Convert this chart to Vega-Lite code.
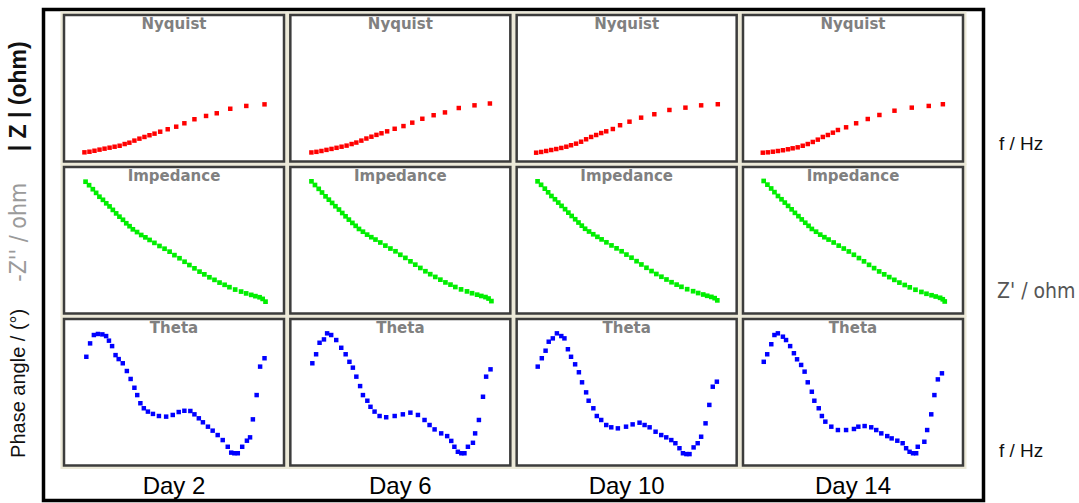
{
  "$schema": "https://vega.github.io/schema/vega-lite/v6.json",
  "width": 940,
  "height": 491,
  "autosize": {"type": "none"},
  "padding": {"left": 43.5, "top": 9.5, "right": 95.5, "bottom": 2.5},
  "background": "white",
  "config": {"view": {"stroke": "black", "strokeWidth": 3.5, "fill": "white"}},
  "datasets": {
    "panels": [
      {"day": "Day 2", "plot": "Nyquist"}, {"day": "Day 6", "plot": "Nyquist"}, {"day": "Day 10", "plot": "Nyquist"}, {"day": "Day 14", "plot": "Nyquist"},
      {"day": "Day 2", "plot": "Impedance"}, {"day": "Day 6", "plot": "Impedance"}, {"day": "Day 10", "plot": "Impedance"}, {"day": "Day 14", "plot": "Impedance"},
      {"day": "Day 2", "plot": "Theta"}, {"day": "Day 6", "plot": "Theta"}, {"day": "Day 10", "plot": "Theta"}, {"day": "Day 14", "plot": "Theta"}
    ],
    "points": [
      {"day":"Day 2","plot":"Nyquist","x":-0.35,"y":0.75},{"day":"Day 2","plot":"Nyquist","x":-0.19,"y":0.80},{"day":"Day 2","plot":"Nyquist","x":-0.03,"y":0.88},{"day":"Day 2","plot":"Nyquist","x":0.13,"y":0.97},{"day":"Day 2","plot":"Nyquist","x":0.29,"y":1.05},{"day":"Day 2","plot":"Nyquist","x":0.45,"y":1.13},{"day":"Day 2","plot":"Nyquist","x":0.61,"y":1.21},{"day":"Day 2","plot":"Nyquist","x":0.77,"y":1.29},{"day":"Day 2","plot":"Nyquist","x":0.93,"y":1.43},{"day":"Day 2","plot":"Nyquist","x":1.08,"y":1.54},{"day":"Day 2","plot":"Nyquist","x":1.24,"y":1.71},{"day":"Day 2","plot":"Nyquist","x":1.40,"y":1.87},{"day":"Day 2","plot":"Nyquist","x":1.56,"y":2.01},{"day":"Day 2","plot":"Nyquist","x":1.72,"y":2.15},{"day":"Day 2","plot":"Nyquist","x":1.88,"y":2.28},{"day":"Day 2","plot":"Nyquist","x":2.06,"y":2.44},{"day":"Day 2","plot":"Nyquist","x":2.30,"y":2.64},{"day":"Day 2","plot":"Nyquist","x":2.57,"y":2.85},{"day":"Day 2","plot":"Nyquist","x":2.83,"y":3.13},{"day":"Day 2","plot":"Nyquist","x":3.15,"y":3.46},{"day":"Day 2","plot":"Nyquist","x":3.52,"y":3.73},{"day":"Day 2","plot":"Nyquist","x":3.86,"y":3.95},{"day":"Day 2","plot":"Nyquist","x":4.29,"y":4.32},{"day":"Day 2","plot":"Nyquist","x":4.80,"y":4.55},{"day":"Day 2","plot":"Nyquist","x":5.38,"y":4.68},
      {"day":"Day 6","plot":"Nyquist","x":-0.33,"y":0.74},{"day":"Day 6","plot":"Nyquist","x":-0.17,"y":0.79},{"day":"Day 6","plot":"Nyquist","x":-0.01,"y":0.86},{"day":"Day 6","plot":"Nyquist","x":0.15,"y":0.95},{"day":"Day 6","plot":"Nyquist","x":0.31,"y":1.03},{"day":"Day 6","plot":"Nyquist","x":0.47,"y":1.12},{"day":"Day 6","plot":"Nyquist","x":0.63,"y":1.21},{"day":"Day 6","plot":"Nyquist","x":0.79,"y":1.30},{"day":"Day 6","plot":"Nyquist","x":0.95,"y":1.43},{"day":"Day 6","plot":"Nyquist","x":1.10,"y":1.55},{"day":"Day 6","plot":"Nyquist","x":1.26,"y":1.71},{"day":"Day 6","plot":"Nyquist","x":1.42,"y":1.88},{"day":"Day 6","plot":"Nyquist","x":1.58,"y":2.03},{"day":"Day 6","plot":"Nyquist","x":1.74,"y":2.18},{"day":"Day 6","plot":"Nyquist","x":1.90,"y":2.31},{"day":"Day 6","plot":"Nyquist","x":2.08,"y":2.47},{"day":"Day 6","plot":"Nyquist","x":2.32,"y":2.68},{"day":"Day 6","plot":"Nyquist","x":2.60,"y":2.90},{"day":"Day 6","plot":"Nyquist","x":2.88,"y":3.18},{"day":"Day 6","plot":"Nyquist","x":3.20,"y":3.50},{"day":"Day 6","plot":"Nyquist","x":3.56,"y":3.79},{"day":"Day 6","plot":"Nyquist","x":3.92,"y":4.02},{"day":"Day 6","plot":"Nyquist","x":4.36,"y":4.38},{"day":"Day 6","plot":"Nyquist","x":4.86,"y":4.60},{"day":"Day 6","plot":"Nyquist","x":5.35,"y":4.75},
      {"day":"Day 10","plot":"Nyquist","x":-0.38,"y":0.72},{"day":"Day 10","plot":"Nyquist","x":-0.22,"y":0.78},{"day":"Day 10","plot":"Nyquist","x":-0.06,"y":0.86},{"day":"Day 10","plot":"Nyquist","x":0.10,"y":0.94},{"day":"Day 10","plot":"Nyquist","x":0.26,"y":1.02},{"day":"Day 10","plot":"Nyquist","x":0.42,"y":1.11},{"day":"Day 10","plot":"Nyquist","x":0.58,"y":1.21},{"day":"Day 10","plot":"Nyquist","x":0.73,"y":1.33},{"day":"Day 10","plot":"Nyquist","x":0.89,"y":1.46},{"day":"Day 10","plot":"Nyquist","x":1.05,"y":1.62},{"day":"Day 10","plot":"Nyquist","x":1.21,"y":1.82},{"day":"Day 10","plot":"Nyquist","x":1.37,"y":2.01},{"day":"Day 10","plot":"Nyquist","x":1.53,"y":2.17},{"day":"Day 10","plot":"Nyquist","x":1.69,"y":2.33},{"day":"Day 10","plot":"Nyquist","x":1.85,"y":2.47},{"day":"Day 10","plot":"Nyquist","x":2.06,"y":2.66},{"day":"Day 10","plot":"Nyquist","x":2.29,"y":2.97},{"day":"Day 10","plot":"Nyquist","x":2.59,"y":3.26},{"day":"Day 10","plot":"Nyquist","x":2.96,"y":3.59},{"day":"Day 10","plot":"Nyquist","x":3.38,"y":3.87},{"day":"Day 10","plot":"Nyquist","x":3.86,"y":4.22},{"day":"Day 10","plot":"Nyquist","x":4.37,"y":4.41},{"day":"Day 10","plot":"Nyquist","x":4.87,"y":4.60},{"day":"Day 10","plot":"Nyquist","x":5.40,"y":4.69},
      {"day":"Day 14","plot":"Nyquist","x":-0.37,"y":0.72},{"day":"Day 14","plot":"Nyquist","x":-0.21,"y":0.75},{"day":"Day 14","plot":"Nyquist","x":-0.05,"y":0.80},{"day":"Day 14","plot":"Nyquist","x":0.11,"y":0.86},{"day":"Day 14","plot":"Nyquist","x":0.27,"y":0.92},{"day":"Day 14","plot":"Nyquist","x":0.43,"y":1.00},{"day":"Day 14","plot":"Nyquist","x":0.58,"y":1.08},{"day":"Day 14","plot":"Nyquist","x":0.74,"y":1.16},{"day":"Day 14","plot":"Nyquist","x":0.90,"y":1.29},{"day":"Day 14","plot":"Nyquist","x":1.06,"y":1.43},{"day":"Day 14","plot":"Nyquist","x":1.22,"y":1.60},{"day":"Day 14","plot":"Nyquist","x":1.38,"y":1.79},{"day":"Day 14","plot":"Nyquist","x":1.54,"y":2.01},{"day":"Day 14","plot":"Nyquist","x":1.70,"y":2.17},{"day":"Day 14","plot":"Nyquist","x":1.86,"y":2.36},{"day":"Day 14","plot":"Nyquist","x":2.02,"y":2.58},{"day":"Day 14","plot":"Nyquist","x":2.28,"y":2.80},{"day":"Day 14","plot":"Nyquist","x":2.60,"y":3.13},{"day":"Day 14","plot":"Nyquist","x":2.97,"y":3.48},{"day":"Day 14","plot":"Nyquist","x":3.34,"y":3.81},{"day":"Day 14","plot":"Nyquist","x":3.82,"y":4.16},{"day":"Day 14","plot":"Nyquist","x":4.37,"y":4.41},{"day":"Day 14","plot":"Nyquist","x":4.91,"y":4.55},{"day":"Day 14","plot":"Nyquist","x":5.36,"y":4.69},
      {"day":"Day 2","plot":"Impedance","x":0.98,"y":7.20},{"day":"Day 2","plot":"Impedance","x":1.14,"y":7.01},{"day":"Day 2","plot":"Impedance","x":1.31,"y":6.79},{"day":"Day 2","plot":"Impedance","x":1.46,"y":6.59},{"day":"Day 2","plot":"Impedance","x":1.61,"y":6.38},{"day":"Day 2","plot":"Impedance","x":1.77,"y":6.21},{"day":"Day 2","plot":"Impedance","x":1.92,"y":6.02},{"day":"Day 2","plot":"Impedance","x":2.07,"y":5.85},{"day":"Day 2","plot":"Impedance","x":2.22,"y":5.66},{"day":"Day 2","plot":"Impedance","x":2.37,"y":5.47},{"day":"Day 2","plot":"Impedance","x":2.52,"y":5.29},{"day":"Day 2","plot":"Impedance","x":2.68,"y":5.12},{"day":"Day 2","plot":"Impedance","x":2.83,"y":4.93},{"day":"Day 2","plot":"Impedance","x":2.98,"y":4.77},{"day":"Day 2","plot":"Impedance","x":3.13,"y":4.60},{"day":"Day 2","plot":"Impedance","x":3.32,"y":4.45},{"day":"Day 2","plot":"Impedance","x":3.51,"y":4.29},{"day":"Day 2","plot":"Impedance","x":3.70,"y":4.16},{"day":"Day 2","plot":"Impedance","x":3.89,"y":4.02},{"day":"Day 2","plot":"Impedance","x":4.11,"y":3.86},{"day":"Day 2","plot":"Impedance","x":4.34,"y":3.69},{"day":"Day 2","plot":"Impedance","x":4.57,"y":3.54},{"day":"Day 2","plot":"Impedance","x":4.80,"y":3.38},{"day":"Day 2","plot":"Impedance","x":5.02,"y":3.19},{"day":"Day 2","plot":"Impedance","x":5.25,"y":3.02},{"day":"Day 2","plot":"Impedance","x":5.48,"y":2.83},{"day":"Day 2","plot":"Impedance","x":5.70,"y":2.65},{"day":"Day 2","plot":"Impedance","x":5.93,"y":2.47},{"day":"Day 2","plot":"Impedance","x":6.16,"y":2.29},{"day":"Day 2","plot":"Impedance","x":6.38,"y":2.14},{"day":"Day 2","plot":"Impedance","x":6.61,"y":1.98},{"day":"Day 2","plot":"Impedance","x":6.84,"y":1.84},{"day":"Day 2","plot":"Impedance","x":7.07,"y":1.69},{"day":"Day 2","plot":"Impedance","x":7.30,"y":1.57},{"day":"Day 2","plot":"Impedance","x":7.52,"y":1.44},{"day":"Day 2","plot":"Impedance","x":7.78,"y":1.31},{"day":"Day 2","plot":"Impedance","x":8.05,"y":1.20},{"day":"Day 2","plot":"Impedance","x":8.28,"y":1.10},{"day":"Day 2","plot":"Impedance","x":8.51,"y":1.02},{"day":"Day 2","plot":"Impedance","x":8.70,"y":0.95},{"day":"Day 2","plot":"Impedance","x":8.89,"y":0.89},{"day":"Day 2","plot":"Impedance","x":9.03,"y":0.80},{"day":"Day 2","plot":"Impedance","x":9.16,"y":0.65},
      {"day":"Day 6","plot":"Impedance","x":0.96,"y":7.22},{"day":"Day 6","plot":"Impedance","x":1.12,"y":7.02},{"day":"Day 6","plot":"Impedance","x":1.29,"y":6.81},{"day":"Day 6","plot":"Impedance","x":1.44,"y":6.61},{"day":"Day 6","plot":"Impedance","x":1.60,"y":6.40},{"day":"Day 6","plot":"Impedance","x":1.75,"y":6.22},{"day":"Day 6","plot":"Impedance","x":1.90,"y":6.04},{"day":"Day 6","plot":"Impedance","x":2.05,"y":5.86},{"day":"Day 6","plot":"Impedance","x":2.21,"y":5.68},{"day":"Day 6","plot":"Impedance","x":2.36,"y":5.49},{"day":"Day 6","plot":"Impedance","x":2.51,"y":5.31},{"day":"Day 6","plot":"Impedance","x":2.66,"y":5.13},{"day":"Day 6","plot":"Impedance","x":2.82,"y":4.95},{"day":"Day 6","plot":"Impedance","x":2.97,"y":4.79},{"day":"Day 6","plot":"Impedance","x":3.12,"y":4.62},{"day":"Day 6","plot":"Impedance","x":3.30,"y":4.47},{"day":"Day 6","plot":"Impedance","x":3.49,"y":4.31},{"day":"Day 6","plot":"Impedance","x":3.68,"y":4.17},{"day":"Day 6","plot":"Impedance","x":3.87,"y":4.04},{"day":"Day 6","plot":"Impedance","x":4.09,"y":3.88},{"day":"Day 6","plot":"Impedance","x":4.32,"y":3.71},{"day":"Day 6","plot":"Impedance","x":4.55,"y":3.55},{"day":"Day 6","plot":"Impedance","x":4.78,"y":3.40},{"day":"Day 6","plot":"Impedance","x":5.00,"y":3.21},{"day":"Day 6","plot":"Impedance","x":5.23,"y":3.04},{"day":"Day 6","plot":"Impedance","x":5.46,"y":2.85},{"day":"Day 6","plot":"Impedance","x":5.68,"y":2.67},{"day":"Day 6","plot":"Impedance","x":5.91,"y":2.49},{"day":"Day 6","plot":"Impedance","x":6.14,"y":2.31},{"day":"Day 6","plot":"Impedance","x":6.36,"y":2.15},{"day":"Day 6","plot":"Impedance","x":6.59,"y":2.00},{"day":"Day 6","plot":"Impedance","x":6.82,"y":1.85},{"day":"Day 6","plot":"Impedance","x":7.05,"y":1.70},{"day":"Day 6","plot":"Impedance","x":7.28,"y":1.58},{"day":"Day 6","plot":"Impedance","x":7.50,"y":1.45},{"day":"Day 6","plot":"Impedance","x":7.76,"y":1.32},{"day":"Day 6","plot":"Impedance","x":8.03,"y":1.21},{"day":"Day 6","plot":"Impedance","x":8.26,"y":1.11},{"day":"Day 6","plot":"Impedance","x":8.49,"y":1.03},{"day":"Day 6","plot":"Impedance","x":8.68,"y":0.96},{"day":"Day 6","plot":"Impedance","x":8.87,"y":0.90},{"day":"Day 6","plot":"Impedance","x":9.01,"y":0.82},{"day":"Day 6","plot":"Impedance","x":9.14,"y":0.68},
      {"day":"Day 10","plot":"Impedance","x":0.95,"y":7.22},{"day":"Day 10","plot":"Impedance","x":1.11,"y":7.03},{"day":"Day 10","plot":"Impedance","x":1.28,"y":6.82},{"day":"Day 10","plot":"Impedance","x":1.43,"y":6.62},{"day":"Day 10","plot":"Impedance","x":1.58,"y":6.42},{"day":"Day 10","plot":"Impedance","x":1.74,"y":6.24},{"day":"Day 10","plot":"Impedance","x":1.89,"y":6.06},{"day":"Day 10","plot":"Impedance","x":2.04,"y":5.88},{"day":"Day 10","plot":"Impedance","x":2.20,"y":5.70},{"day":"Day 10","plot":"Impedance","x":2.35,"y":5.51},{"day":"Day 10","plot":"Impedance","x":2.50,"y":5.33},{"day":"Day 10","plot":"Impedance","x":2.66,"y":5.15},{"day":"Day 10","plot":"Impedance","x":2.81,"y":4.97},{"day":"Day 10","plot":"Impedance","x":2.96,"y":4.80},{"day":"Day 10","plot":"Impedance","x":3.11,"y":4.63},{"day":"Day 10","plot":"Impedance","x":3.29,"y":4.48},{"day":"Day 10","plot":"Impedance","x":3.48,"y":4.33},{"day":"Day 10","plot":"Impedance","x":3.67,"y":4.19},{"day":"Day 10","plot":"Impedance","x":3.86,"y":4.05},{"day":"Day 10","plot":"Impedance","x":4.08,"y":3.89},{"day":"Day 10","plot":"Impedance","x":4.31,"y":3.72},{"day":"Day 10","plot":"Impedance","x":4.54,"y":3.56},{"day":"Day 10","plot":"Impedance","x":4.77,"y":3.40},{"day":"Day 10","plot":"Impedance","x":4.99,"y":3.22},{"day":"Day 10","plot":"Impedance","x":5.22,"y":3.05},{"day":"Day 10","plot":"Impedance","x":5.45,"y":2.86},{"day":"Day 10","plot":"Impedance","x":5.67,"y":2.68},{"day":"Day 10","plot":"Impedance","x":5.90,"y":2.50},{"day":"Day 10","plot":"Impedance","x":6.13,"y":2.32},{"day":"Day 10","plot":"Impedance","x":6.35,"y":2.16},{"day":"Day 10","plot":"Impedance","x":6.58,"y":2.01},{"day":"Day 10","plot":"Impedance","x":6.81,"y":1.86},{"day":"Day 10","plot":"Impedance","x":7.04,"y":1.71},{"day":"Day 10","plot":"Impedance","x":7.27,"y":1.58},{"day":"Day 10","plot":"Impedance","x":7.49,"y":1.46},{"day":"Day 10","plot":"Impedance","x":7.75,"y":1.33},{"day":"Day 10","plot":"Impedance","x":8.02,"y":1.22},{"day":"Day 10","plot":"Impedance","x":8.25,"y":1.12},{"day":"Day 10","plot":"Impedance","x":8.48,"y":1.04},{"day":"Day 10","plot":"Impedance","x":8.66,"y":0.97},{"day":"Day 10","plot":"Impedance","x":8.85,"y":0.91},{"day":"Day 10","plot":"Impedance","x":9.00,"y":0.84},{"day":"Day 10","plot":"Impedance","x":9.12,"y":0.72},
      {"day":"Day 14","plot":"Impedance","x":0.94,"y":7.24},{"day":"Day 14","plot":"Impedance","x":1.11,"y":7.04},{"day":"Day 14","plot":"Impedance","x":1.28,"y":6.83},{"day":"Day 14","plot":"Impedance","x":1.43,"y":6.63},{"day":"Day 14","plot":"Impedance","x":1.59,"y":6.42},{"day":"Day 14","plot":"Impedance","x":1.75,"y":6.24},{"day":"Day 14","plot":"Impedance","x":1.90,"y":6.06},{"day":"Day 14","plot":"Impedance","x":2.05,"y":5.88},{"day":"Day 14","plot":"Impedance","x":2.21,"y":5.69},{"day":"Day 14","plot":"Impedance","x":2.36,"y":5.50},{"day":"Day 14","plot":"Impedance","x":2.52,"y":5.32},{"day":"Day 14","plot":"Impedance","x":2.67,"y":5.14},{"day":"Day 14","plot":"Impedance","x":2.83,"y":4.96},{"day":"Day 14","plot":"Impedance","x":2.98,"y":4.79},{"day":"Day 14","plot":"Impedance","x":3.13,"y":4.62},{"day":"Day 14","plot":"Impedance","x":3.32,"y":4.47},{"day":"Day 14","plot":"Impedance","x":3.51,"y":4.31},{"day":"Day 14","plot":"Impedance","x":3.70,"y":4.17},{"day":"Day 14","plot":"Impedance","x":3.89,"y":4.04},{"day":"Day 14","plot":"Impedance","x":4.12,"y":3.88},{"day":"Day 14","plot":"Impedance","x":4.35,"y":3.71},{"day":"Day 14","plot":"Impedance","x":4.58,"y":3.55},{"day":"Day 14","plot":"Impedance","x":4.81,"y":3.39},{"day":"Day 14","plot":"Impedance","x":5.04,"y":3.21},{"day":"Day 14","plot":"Impedance","x":5.27,"y":3.03},{"day":"Day 14","plot":"Impedance","x":5.50,"y":2.85},{"day":"Day 14","plot":"Impedance","x":5.73,"y":2.66},{"day":"Day 14","plot":"Impedance","x":5.96,"y":2.48},{"day":"Day 14","plot":"Impedance","x":6.19,"y":2.30},{"day":"Day 14","plot":"Impedance","x":6.42,"y":2.14},{"day":"Day 14","plot":"Impedance","x":6.65,"y":1.99},{"day":"Day 14","plot":"Impedance","x":6.88,"y":1.84},{"day":"Day 14","plot":"Impedance","x":7.11,"y":1.69},{"day":"Day 14","plot":"Impedance","x":7.35,"y":1.56},{"day":"Day 14","plot":"Impedance","x":7.58,"y":1.43},{"day":"Day 14","plot":"Impedance","x":7.84,"y":1.30},{"day":"Day 14","plot":"Impedance","x":8.11,"y":1.18},{"day":"Day 14","plot":"Impedance","x":8.34,"y":1.08},{"day":"Day 14","plot":"Impedance","x":8.57,"y":1.00},{"day":"Day 14","plot":"Impedance","x":8.76,"y":0.93},{"day":"Day 14","plot":"Impedance","x":8.96,"y":0.86},{"day":"Day 14","plot":"Impedance","x":9.08,"y":0.78},{"day":"Day 14","plot":"Impedance","x":9.17,"y":0.66},
      {"day":"Day 2","plot":"Theta","x":-0.29,"y":52.0},{"day":"Day 2","plot":"Theta","x":-0.17,"y":58.4},{"day":"Day 2","plot":"Theta","x":-0.05,"y":62.4},{"day":"Day 2","plot":"Theta","x":0.08,"y":62.9},{"day":"Day 2","plot":"Theta","x":0.22,"y":62.7},{"day":"Day 2","plot":"Theta","x":0.34,"y":61.9},{"day":"Day 2","plot":"Theta","x":0.43,"y":59.7},{"day":"Day 2","plot":"Theta","x":0.53,"y":57.1},{"day":"Day 2","plot":"Theta","x":0.64,"y":52.8},{"day":"Day 2","plot":"Theta","x":0.74,"y":50.9},{"day":"Day 2","plot":"Theta","x":0.87,"y":48.9},{"day":"Day 2","plot":"Theta","x":1.00,"y":45.2},{"day":"Day 2","plot":"Theta","x":1.12,"y":41.4},{"day":"Day 2","plot":"Theta","x":1.24,"y":37.2},{"day":"Day 2","plot":"Theta","x":1.33,"y":33.7},{"day":"Day 2","plot":"Theta","x":1.43,"y":29.8},{"day":"Day 2","plot":"Theta","x":1.54,"y":27.4},{"day":"Day 2","plot":"Theta","x":1.67,"y":25.8},{"day":"Day 2","plot":"Theta","x":1.83,"y":24.7},{"day":"Day 2","plot":"Theta","x":2.02,"y":23.7},{"day":"Day 2","plot":"Theta","x":2.25,"y":23.4},{"day":"Day 2","plot":"Theta","x":2.46,"y":24.2},{"day":"Day 2","plot":"Theta","x":2.65,"y":25.6},{"day":"Day 2","plot":"Theta","x":2.83,"y":26.2},{"day":"Day 2","plot":"Theta","x":3.02,"y":26.1},{"day":"Day 2","plot":"Theta","x":3.15,"y":24.5},{"day":"Day 2","plot":"Theta","x":3.29,"y":22.6},{"day":"Day 2","plot":"Theta","x":3.42,"y":20.7},{"day":"Day 2","plot":"Theta","x":3.58,"y":18.6},{"day":"Day 2","plot":"Theta","x":3.73,"y":16.7},{"day":"Day 2","plot":"Theta","x":3.89,"y":14.6},{"day":"Day 2","plot":"Theta","x":4.05,"y":12.2},{"day":"Day 2","plot":"Theta","x":4.21,"y":9.0},{"day":"Day 2","plot":"Theta","x":4.32,"y":6.2},{"day":"Day 2","plot":"Theta","x":4.42,"y":5.9},{"day":"Day 2","plot":"Theta","x":4.53,"y":5.9},{"day":"Day 2","plot":"Theta","x":4.67,"y":9.0},{"day":"Day 2","plot":"Theta","x":4.82,"y":11.9},{"day":"Day 2","plot":"Theta","x":4.92,"y":13.5},{"day":"Day 2","plot":"Theta","x":5.01,"y":22.1},{"day":"Day 2","plot":"Theta","x":5.13,"y":33.7},{"day":"Day 2","plot":"Theta","x":5.24,"y":47.3},{"day":"Day 2","plot":"Theta","x":5.38,"y":51.3},
      {"day":"Day 6","plot":"Theta","x":-0.30,"y":48.9},{"day":"Day 6","plot":"Theta","x":-0.18,"y":53.2},{"day":"Day 6","plot":"Theta","x":-0.07,"y":58.7},{"day":"Day 6","plot":"Theta","x":0.07,"y":60.3},{"day":"Day 6","plot":"Theta","x":0.17,"y":63.2},{"day":"Day 6","plot":"Theta","x":0.30,"y":62.4},{"day":"Day 6","plot":"Theta","x":0.46,"y":60.0},{"day":"Day 6","plot":"Theta","x":0.62,"y":56.3},{"day":"Day 6","plot":"Theta","x":0.76,"y":53.2},{"day":"Day 6","plot":"Theta","x":0.88,"y":49.6},{"day":"Day 6","plot":"Theta","x":0.99,"y":46.8},{"day":"Day 6","plot":"Theta","x":1.10,"y":42.5},{"day":"Day 6","plot":"Theta","x":1.22,"y":38.0},{"day":"Day 6","plot":"Theta","x":1.31,"y":33.7},{"day":"Day 6","plot":"Theta","x":1.45,"y":31.0},{"day":"Day 6","plot":"Theta","x":1.55,"y":28.1},{"day":"Day 6","plot":"Theta","x":1.68,"y":25.8},{"day":"Day 6","plot":"Theta","x":1.84,"y":23.7},{"day":"Day 6","plot":"Theta","x":2.05,"y":23.1},{"day":"Day 6","plot":"Theta","x":2.32,"y":23.7},{"day":"Day 6","plot":"Theta","x":2.58,"y":24.5},{"day":"Day 6","plot":"Theta","x":2.82,"y":25.3},{"day":"Day 6","plot":"Theta","x":3.06,"y":24.2},{"day":"Day 6","plot":"Theta","x":3.27,"y":21.8},{"day":"Day 6","plot":"Theta","x":3.43,"y":19.4},{"day":"Day 6","plot":"Theta","x":3.59,"y":17.3},{"day":"Day 6","plot":"Theta","x":3.80,"y":15.4},{"day":"Day 6","plot":"Theta","x":3.99,"y":14.1},{"day":"Day 6","plot":"Theta","x":4.12,"y":11.8},{"day":"Day 6","plot":"Theta","x":4.22,"y":9.0},{"day":"Day 6","plot":"Theta","x":4.33,"y":6.6},{"day":"Day 6","plot":"Theta","x":4.44,"y":5.9},{"day":"Day 6","plot":"Theta","x":4.54,"y":5.9},{"day":"Day 6","plot":"Theta","x":4.65,"y":9.0},{"day":"Day 6","plot":"Theta","x":4.81,"y":10.9},{"day":"Day 6","plot":"Theta","x":4.88,"y":15.4},{"day":"Day 6","plot":"Theta","x":5.00,"y":21.8},{"day":"Day 6","plot":"Theta","x":5.13,"y":32.9},{"day":"Day 6","plot":"Theta","x":5.23,"y":42.5},{"day":"Day 6","plot":"Theta","x":5.37,"y":46.0},
      {"day":"Day 10","plot":"Theta","x":-0.33,"y":47.3},{"day":"Day 10","plot":"Theta","x":-0.20,"y":51.3},{"day":"Day 10","plot":"Theta","x":-0.08,"y":54.9},{"day":"Day 10","plot":"Theta","x":0.02,"y":59.2},{"day":"Day 10","plot":"Theta","x":0.15,"y":60.8},{"day":"Day 10","plot":"Theta","x":0.28,"y":63.2},{"day":"Day 10","plot":"Theta","x":0.42,"y":61.9},{"day":"Day 10","plot":"Theta","x":0.52,"y":60.8},{"day":"Day 10","plot":"Theta","x":0.63,"y":55.6},{"day":"Day 10","plot":"Theta","x":0.73,"y":52.0},{"day":"Day 10","plot":"Theta","x":0.86,"y":48.4},{"day":"Day 10","plot":"Theta","x":0.98,"y":44.6},{"day":"Day 10","plot":"Theta","x":1.08,"y":39.8},{"day":"Day 10","plot":"Theta","x":1.21,"y":35.0},{"day":"Day 10","plot":"Theta","x":1.29,"y":31.0},{"day":"Day 10","plot":"Theta","x":1.44,"y":27.4},{"day":"Day 10","plot":"Theta","x":1.55,"y":23.7},{"day":"Day 10","plot":"Theta","x":1.69,"y":21.8},{"day":"Day 10","plot":"Theta","x":1.85,"y":19.4},{"day":"Day 10","plot":"Theta","x":2.01,"y":18.3},{"day":"Day 10","plot":"Theta","x":2.22,"y":17.8},{"day":"Day 10","plot":"Theta","x":2.48,"y":18.6},{"day":"Day 10","plot":"Theta","x":2.69,"y":19.7},{"day":"Day 10","plot":"Theta","x":2.91,"y":20.5},{"day":"Day 10","plot":"Theta","x":3.07,"y":19.4},{"day":"Day 10","plot":"Theta","x":3.23,"y":18.3},{"day":"Day 10","plot":"Theta","x":3.42,"y":16.2},{"day":"Day 10","plot":"Theta","x":3.60,"y":14.6},{"day":"Day 10","plot":"Theta","x":3.76,"y":13.5},{"day":"Day 10","plot":"Theta","x":3.92,"y":12.2},{"day":"Day 10","plot":"Theta","x":4.05,"y":10.7},{"day":"Day 10","plot":"Theta","x":4.18,"y":8.3},{"day":"Day 10","plot":"Theta","x":4.29,"y":5.9},{"day":"Day 10","plot":"Theta","x":4.40,"y":5.5},{"day":"Day 10","plot":"Theta","x":4.50,"y":5.5},{"day":"Day 10","plot":"Theta","x":4.63,"y":8.7},{"day":"Day 10","plot":"Theta","x":4.76,"y":10.7},{"day":"Day 10","plot":"Theta","x":4.87,"y":13.8},{"day":"Day 10","plot":"Theta","x":5.01,"y":20.2},{"day":"Day 10","plot":"Theta","x":5.13,"y":29.0},{"day":"Day 10","plot":"Theta","x":5.24,"y":37.7},{"day":"Day 10","plot":"Theta","x":5.37,"y":40.1},
      {"day":"Day 14","plot":"Theta","x":-0.34,"y":49.6},{"day":"Day 14","plot":"Theta","x":-0.23,"y":53.2},{"day":"Day 14","plot":"Theta","x":-0.10,"y":58.0},{"day":"Day 14","plot":"Theta","x":0.00,"y":62.4},{"day":"Day 14","plot":"Theta","x":0.11,"y":63.2},{"day":"Day 14","plot":"Theta","x":0.27,"y":61.6},{"day":"Day 14","plot":"Theta","x":0.37,"y":60.0},{"day":"Day 14","plot":"Theta","x":0.50,"y":57.1},{"day":"Day 14","plot":"Theta","x":0.62,"y":53.7},{"day":"Day 14","plot":"Theta","x":0.72,"y":50.8},{"day":"Day 14","plot":"Theta","x":0.85,"y":48.1},{"day":"Day 14","plot":"Theta","x":0.96,"y":44.9},{"day":"Day 14","plot":"Theta","x":1.06,"y":39.8},{"day":"Day 14","plot":"Theta","x":1.19,"y":35.3},{"day":"Day 14","plot":"Theta","x":1.27,"y":31.0},{"day":"Day 14","plot":"Theta","x":1.41,"y":27.4},{"day":"Day 14","plot":"Theta","x":1.51,"y":23.7},{"day":"Day 14","plot":"Theta","x":1.62,"y":21.0},{"day":"Day 14","plot":"Theta","x":1.81,"y":18.6},{"day":"Day 14","plot":"Theta","x":2.02,"y":17.0},{"day":"Day 14","plot":"Theta","x":2.28,"y":17.0},{"day":"Day 14","plot":"Theta","x":2.53,"y":17.5},{"day":"Day 14","plot":"Theta","x":2.67,"y":18.6},{"day":"Day 14","plot":"Theta","x":2.87,"y":18.9},{"day":"Day 14","plot":"Theta","x":3.08,"y":18.3},{"day":"Day 14","plot":"Theta","x":3.24,"y":17.0},{"day":"Day 14","plot":"Theta","x":3.40,"y":15.4},{"day":"Day 14","plot":"Theta","x":3.59,"y":14.1},{"day":"Day 14","plot":"Theta","x":3.73,"y":13.0},{"day":"Day 14","plot":"Theta","x":3.91,"y":11.9},{"day":"Day 14","plot":"Theta","x":4.08,"y":10.7},{"day":"Day 14","plot":"Theta","x":4.19,"y":8.3},{"day":"Day 14","plot":"Theta","x":4.30,"y":6.6},{"day":"Day 14","plot":"Theta","x":4.41,"y":5.9},{"day":"Day 14","plot":"Theta","x":4.51,"y":5.9},{"day":"Day 14","plot":"Theta","x":4.56,"y":9.0},{"day":"Day 14","plot":"Theta","x":4.77,"y":11.4},{"day":"Day 14","plot":"Theta","x":4.86,"y":17.0},{"day":"Day 14","plot":"Theta","x":4.99,"y":24.5},{"day":"Day 14","plot":"Theta","x":5.09,"y":33.7},{"day":"Day 14","plot":"Theta","x":5.20,"y":41.2},{"day":"Day 14","plot":"Theta","x":5.33,"y":44.1}
    ]
  },
  "resolve": {
    "scale": {"xOffset": "independent", "yOffset": "independent"},
    "axis": {"x": "independent", "y": "independent"}
  },
  "layer": [
    {
      "data": {"name": "panels"},
      "mark": {"type": "rect", "fill": "#ece9d8", "stroke": "#ece9d8", "strokeWidth": 7},
      "encoding": {
        "x": {"field": "day", "type": "nominal", "axis": null,
              "scale": {"domain": ["Day 2", "Day 6", "Day 10", "Day 14"], "paddingInner": 0.028, "paddingOuter": 0.0906, "align": 0.5}},
        "y": {"field": "plot", "type": "nominal",
              "scale": {"domain": ["Nyquist", "Impedance", "Theta"], "paddingInner": 0.0366, "paddingOuter": 0.1328, "align": 0.136},
              "axis": {
                "orient": "left", "title": null, "domain": false, "ticks": false, "tickSize": 0, "grid": false,
                "labelAngle": 270, "labelAlign": "center", "labelBaseline": "middle", "labelPadding": 25.5,
                "labelLimit": 0, "labelOverlap": false,
                "labelExpr": "datum.value === 'Nyquist' ? '| Z | (ohm)' : datum.value === 'Impedance' ? \"-Z'' / ohm\" : 'Phase angle / (°)'",
                "labelFont": {"condition": {"test": "datum.value === 'Impedance'", "value": "Liberation Sans Narrow, DejaVu Sans Condensed, sans-serif"}, "value": "Liberation Sans, Arial, sans-serif"},
                "labelFontWeight": {"condition": {"test": "datum.value === 'Nyquist'", "value": "bold"}, "value": "normal"},
                "labelColor": {"condition": {"test": "datum.value === 'Impedance'", "value": "#9a9a9a"}, "value": "#111111"},
                "labelFontSize": {"condition": [{"test": "datum.value === 'Nyquist'", "value": 23}, {"test": "datum.value === 'Impedance'", "value": 23}], "value": 20},
                "labelOffset": {"condition": [{"test": "datum.value === 'Nyquist'", "value": 8}, {"test": "datum.value === 'Impedance'", "value": -8}], "value": -9}
              }}
      }
    },
    {
      "data": {"name": "panels"},
      "mark": {"type": "rect", "fill": "white", "stroke": "#3c3c3c", "strokeWidth": 2.5},
      "encoding": {
        "x": {"field": "day", "type": "nominal", "axis": null,
              "scale": {"domain": ["Day 2", "Day 6", "Day 10", "Day 14"], "paddingInner": 0.028, "paddingOuter": 0.0906, "align": 0.5}},
        "y": {"field": "plot", "type": "nominal",
              "scale": {"domain": ["Nyquist", "Impedance", "Theta"], "paddingInner": 0.0366, "paddingOuter": 0.1328, "align": 0.136},
              "axis": {
                "orient": "right", "title": null, "domain": false, "ticks": false, "tickSize": 0, "grid": false,
                "labelAngle": 0, "labelAlign": "left", "labelBaseline": "middle", "labelPadding": 15,
                "labelLimit": 0, "labelOverlap": false,
                "labelExpr": "datum.value === 'Impedance' ? \"Z' / ohm\" : 'f / Hz'",
                "labelFont": {"condition": {"test": "datum.value === 'Impedance'", "value": "Liberation Sans Narrow, DejaVu Sans Condensed, sans-serif"}, "value": "Liberation Sans, Arial, sans-serif"},
                "labelColor": {"condition": {"test": "datum.value === 'Impedance'", "value": "#555555"}, "value": "#111111"},
                "labelFontSize": {"condition": {"test": "datum.value === 'Impedance'", "value": 21}, "value": 19},
                "labelPadding": {"condition": {"test": "datum.value === 'Impedance'", "value": 13}, "value": 15},
                "labelOffset": {"condition": [{"test": "datum.value === 'Nyquist'", "value": 56}, {"test": "datum.value === 'Impedance'", "value": 52}], "value": 59}
              }}
      }
    },
    {
      "data": {"name": "panels"},
      "mark": {"type": "text", "baseline": "top", "align": "center", "dy": 2, "font": "DejaVu Sans", "fontWeight": "bold", "fontSize": 15, "color": "#808080"},
      "encoding": {
        "x": {"field": "day", "type": "nominal", "axis": null, "bandPosition": 0.5,
              "scale": {"domain": ["Day 2", "Day 6", "Day 10", "Day 14"], "paddingInner": 0.028, "paddingOuter": 0.0906, "align": 0.5}},
        "y": {"field": "plot", "type": "nominal", "axis": null, "bandPosition": 0,
              "scale": {"domain": ["Nyquist", "Impedance", "Theta"], "paddingInner": 0.0366, "paddingOuter": 0.1328, "align": 0.136}},
        "text": {"field": "plot"}
      }
    },
    {
      "data": {"name": "points"},
      "transform": [{"filter": "datum.plot === 'Nyquist'"}],
      "mark": {"type": "point", "shape": "square", "filled": true, "size": 20, "opacity": 1, "color": "#ff0000"},
      "encoding": {
        "x": {"field": "day", "type": "nominal", "axis": null,
              "scale": {"domain": ["Day 2", "Day 6", "Day 10", "Day 14"], "paddingInner": 0.028, "paddingOuter": 0.0906, "align": 0.5}},
        "y": {"field": "plot", "type": "nominal", "axis": null,
              "scale": {"domain": ["Nyquist", "Impedance", "Theta"], "paddingInner": 0.0366, "paddingOuter": 0.1328, "align": 0.136}},
        "xOffset": {"field": "x", "type": "quantitative", "title": "log10 f / Hz", "scale": {"domain": [-1, 6], "nice": false, "zero": false}},
        "yOffset": {"field": "y", "type": "quantitative", "title": "|Z| / kohm", "scale": {"domain": [0, 12], "nice": false, "zero": false, "reverse": true}}
      }
    },
    {
      "data": {"name": "points"},
      "transform": [{"filter": "datum.plot === 'Impedance'"}],
      "mark": {"type": "point", "shape": "square", "filled": true, "size": 22, "opacity": 1, "color": "#00ee00"},
      "encoding": {
        "x": {"field": "day", "type": "nominal", "axis": null,
              "scale": {"domain": ["Day 2", "Day 6", "Day 10", "Day 14"], "paddingInner": 0.028, "paddingOuter": 0.0906, "align": 0.5}},
        "y": {"field": "plot", "type": "nominal", "axis": null,
              "scale": {"domain": ["Nyquist", "Impedance", "Theta"], "paddingInner": 0.0366, "paddingOuter": 0.1328, "align": 0.136}},
        "xOffset": {"field": "x", "type": "quantitative", "title": "Z' / kohm", "scale": {"domain": [0, 10], "nice": false, "zero": false}},
        "yOffset": {"field": "y", "type": "quantitative", "title": "-Z'' / kohm", "scale": {"domain": [0, 8], "nice": false, "zero": false, "reverse": true}}
      }
    },
    {
      "data": {"name": "points"},
      "transform": [{"filter": "datum.plot === 'Theta'"}],
      "mark": {"type": "point", "shape": "square", "filled": true, "size": 20, "opacity": 1, "color": "#0000ff"},
      "encoding": {
        "x": {"field": "day", "type": "nominal", "axis": null,
              "scale": {"domain": ["Day 2", "Day 6", "Day 10", "Day 14"], "paddingInner": 0.028, "paddingOuter": 0.0906, "align": 0.5}},
        "y": {"field": "plot", "type": "nominal", "axis": null,
              "scale": {"domain": ["Nyquist", "Impedance", "Theta"], "paddingInner": 0.0366, "paddingOuter": 0.1328, "align": 0.136}},
        "xOffset": {"field": "x", "type": "quantitative", "title": "log10 f / Hz", "scale": {"domain": [-1, 6], "nice": false, "zero": false}},
        "yOffset": {"field": "y", "type": "quantitative", "title": "phase angle / deg", "scale": {"domain": [0, 70], "nice": false, "zero": false, "reverse": true}}
      }
    },
    {
      "data": {"name": "panels"},
      "transform": [{"filter": "datum.plot === 'Theta'"}],
      "mark": {"type": "text", "baseline": "alphabetic", "align": "center", "dy": 28, "font": "Liberation Sans, Arial, sans-serif", "fontSize": 24, "color": "#000000"},
      "encoding": {
        "x": {"field": "day", "type": "nominal", "axis": null, "bandPosition": 0.5,
              "scale": {"domain": ["Day 2", "Day 6", "Day 10", "Day 14"], "paddingInner": 0.028, "paddingOuter": 0.0906, "align": 0.5}},
        "y": {"field": "plot", "type": "nominal", "axis": null, "bandPosition": 1,
              "scale": {"domain": ["Nyquist", "Impedance", "Theta"], "paddingInner": 0.0366, "paddingOuter": 0.1328, "align": 0.136}},
        "text": {"field": "day"}
      }
    }
  ]
}
